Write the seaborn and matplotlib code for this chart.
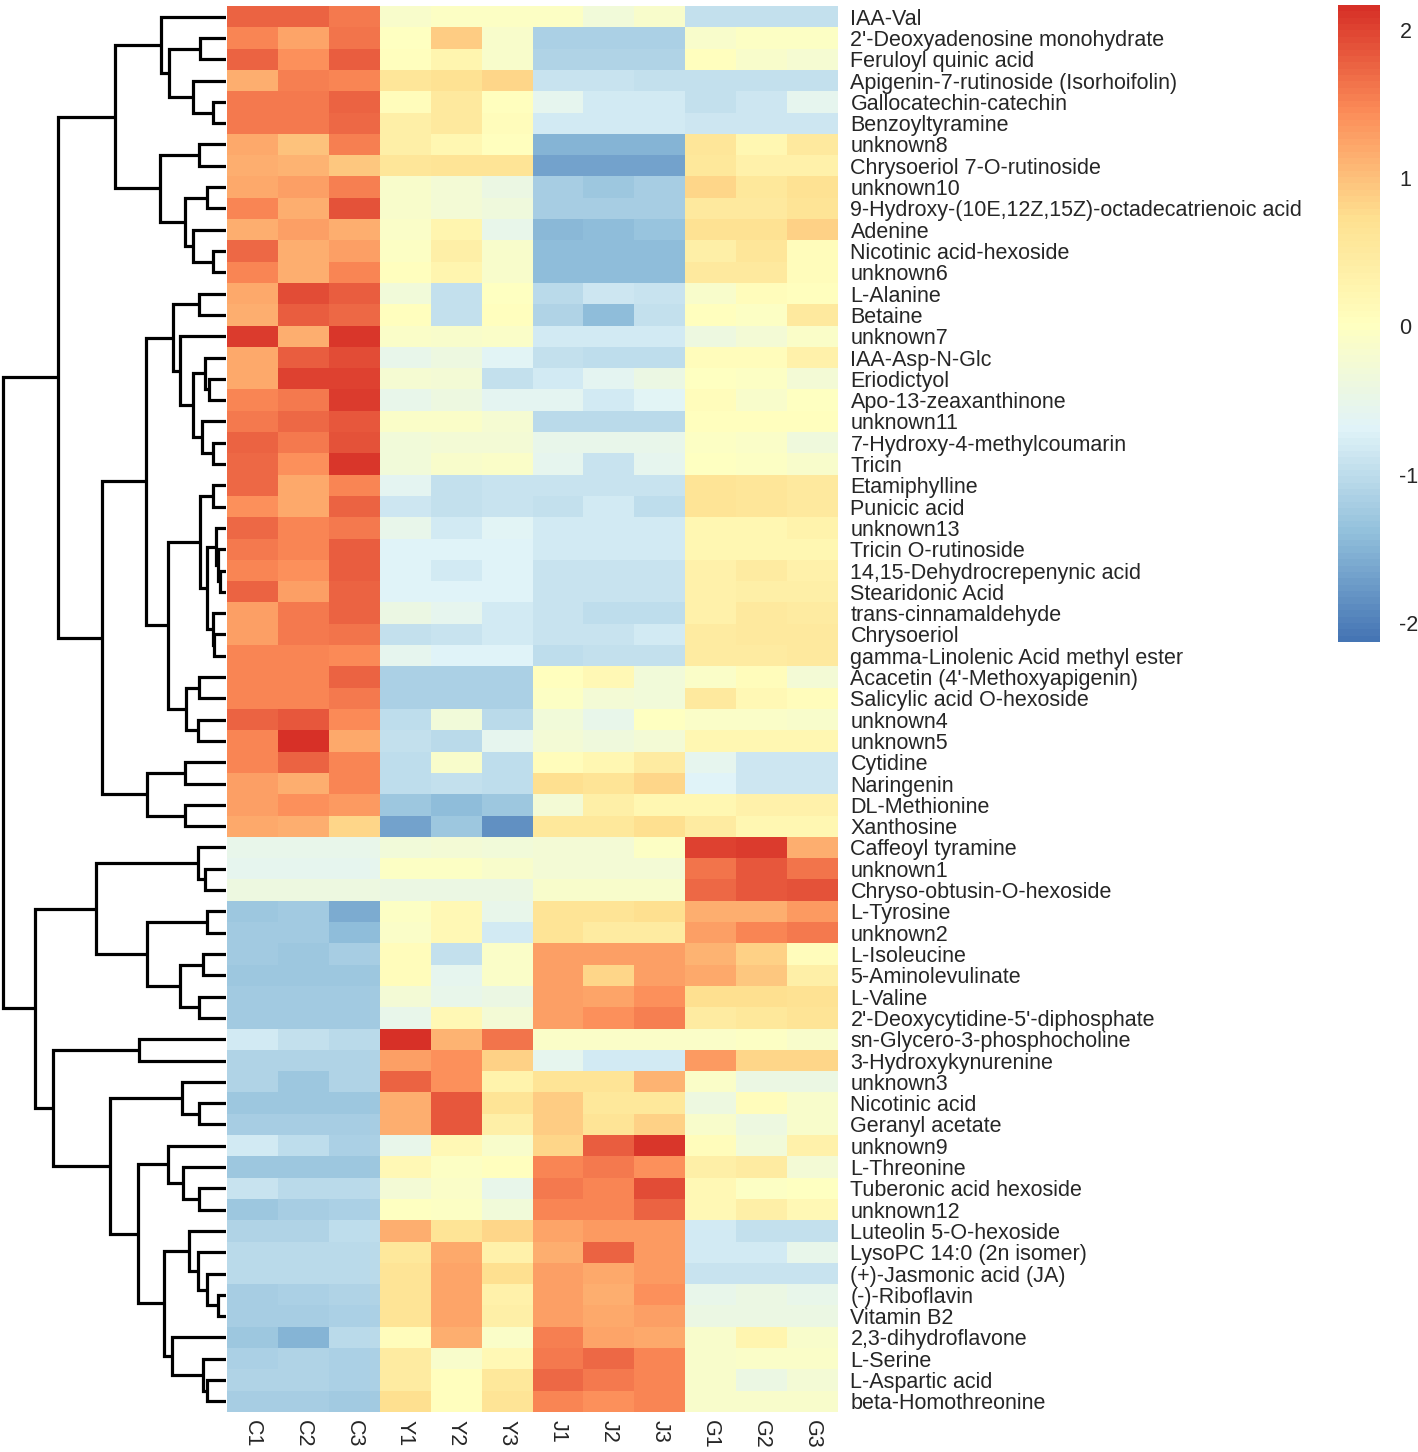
import matplotlib
matplotlib.use("Agg")
import matplotlib.pyplot as plt
from matplotlib.colors import LinearSegmentedColormap
import numpy as np
import pandas as pd
import seaborn as sns

samples = ["C1", "C2", "C3", "Y1", "Y2", "Y3", "J1", "J2", "J3", "G1", "G2", "G3"]

metabolites = [
    "IAA-Val", "2'-Deoxyadenosine monohydrate", "Feruloyl quinic acid",
    "Apigenin-7-rutinoside (Isorhoifolin)", "Gallocatechin-catechin", "Benzoyltyramine",
    "unknown8", "Chrysoeriol 7-O-rutinoside", "unknown10",
    "9-Hydroxy-(10E,12Z,15Z)-octadecatrienoic acid", "Adenine", "Nicotinic acid-hexoside",
    "unknown6", "L-Alanine", "Betaine", "unknown7", "IAA-Asp-N-Glc", "Eriodictyol",
    "Apo-13-zeaxanthinone", "unknown11", "7-Hydroxy-4-methylcoumarin", "Tricin",
    "Etamiphylline", "Punicic acid", "unknown13", "Tricin O-rutinoside",
    "14,15-Dehydrocrepenynic acid", "Stearidonic Acid", "trans-cinnamaldehyde",
    "Chrysoeriol", "gamma-Linolenic Acid methyl ester", "Acacetin (4'-Methoxyapigenin)",
    "Salicylic acid O-hexoside", "unknown4", "unknown5", "Cytidine", "Naringenin",
    "DL-Methionine", "Xanthosine", "Caffeoyl tyramine", "unknown1",
    "Chryso-obtusin-O-hexoside", "L-Tyrosine", "unknown2", "L-Isoleucine",
    "5-Aminolevulinate", "L-Valine", "2'-Deoxycytidine-5'-diphosphate",
    "sn-Glycero-3-phosphocholine", "3-Hydroxykynurenine", "unknown3", "Nicotinic acid",
    "Geranyl acetate", "unknown9", "L-Threonine", "Tuberonic acid hexoside", "unknown12",
    "Luteolin 5-O-hexoside", "LysoPC 14:0 (2n isomer)", "(+)-Jasmonic acid (JA)",
    "(-)-Riboflavin", "Vitamin B2", "2,3-dihydroflavone", "L-Serine", "L-Aspartic acid",
    "beta-Homothreonine",
]

# row z-scores, one triplet per metabolite for each group
c_scores = [
    [1.75, 1.75, 1.6], [1.5, 1.25, 1.65], [1.75, 1.4, 1.8], [1.15, 1.55, 1.5],
    [1.6, 1.6, 1.75], [1.6, 1.6, 1.7], [1.2, 1.0, 1.55], [1.15, 1.1, 0.95],
    [1.2, 1.3, 1.55], [1.5, 1.15, 1.9], [1.15, 1.3, 1.15], [1.7, 1.15, 1.3],
    [1.5, 1.15, 1.5], [1.2, 1.95, 1.8], [1.15, 1.8, 1.7], [2.05, 1.15, 2.1],
    [1.2, 1.8, 1.95], [1.2, 2.0, 2.0], [1.5, 1.6, 2.05], [1.6, 1.7, 1.85],
    [1.75, 1.6, 1.9], [1.7, 1.4, 2.1], [1.7, 1.2, 1.5], [1.4, 1.2, 1.75],
    [1.7, 1.5, 1.6], [1.6, 1.5, 1.8], [1.5, 1.4, 1.8], [1.75, 1.3, 1.75],
    [1.3, 1.6, 1.75], [1.3, 1.6, 1.65], [1.5, 1.5, 1.45], [1.5, 1.5, 1.75],
    [1.5, 1.5, 1.6], [1.75, 1.85, 1.45], [1.5, 2.15, 1.2], [1.5, 1.75, 1.5],
    [1.3, 1.15, 1.5], [1.3, 1.4, 1.35], [1.2, 1.15, 0.8], [-0.5, -0.5, -0.5],
    [-0.55, -0.55, -0.55], [-0.4, -0.4, -0.4], [-1.3, -1.25, -1.6], [-1.25, -1.25, -1.4],
    [-1.25, -1.3, -1.2], [-1.3, -1.3, -1.3], [-1.25, -1.25, -1.25], [-1.25, -1.25, -1.25],
    [-0.8, -0.95, -1.05], [-1.1, -1.1, -1.1], [-1.1, -1.3, -1.1], [-1.3, -1.3, -1.3],
    [-1.2, -1.2, -1.2], [-0.8, -1.0, -1.15], [-1.3, -1.3, -1.3], [-0.9, -1.05, -1.05],
    [-1.3, -1.2, -1.15], [-1.1, -1.1, -1.0], [-1.05, -1.05, -1.05], [-1.05, -1.05, -1.05],
    [-1.2, -1.15, -1.1], [-1.2, -1.2, -1.15], [-1.3, -1.5, -1.05], [-1.15, -1.1, -1.15],
    [-1.1, -1.1, -1.15], [-1.2, -1.2, -1.25],
]
y_scores = [
    [-0.15, -0.05, -0.05], [0.0, 0.9, -0.15], [0.05, 0.25, -0.15], [0.6, 0.7, 0.8],
    [0.1, 0.5, 0.05], [0.4, 0.5, 0.1], [0.4, 0.2, 0.05], [0.6, 0.65, 0.65],
    [-0.15, -0.25, -0.45], [-0.15, -0.25, -0.35], [-0.1, 0.25, -0.5], [-0.05, 0.4, -0.15],
    [0.05, 0.25, -0.15], [-0.3, -0.95, 0.0], [0.05, -0.95, 0.05], [-0.1, -0.15, -0.1],
    [-0.5, -0.4, -0.65], [-0.2, -0.25, -0.95], [-0.5, -0.4, -0.6], [-0.1, -0.1, -0.2],
    [-0.3, -0.25, -0.25], [-0.3, -0.15, -0.1], [-0.6, -0.95, -0.9], [-0.85, -0.95, -0.9],
    [-0.5, -0.8, -0.65], [-0.7, -0.7, -0.7], [-0.7, -0.8, -0.7], [-0.7, -0.7, -0.7],
    [-0.45, -0.55, -0.8], [-0.95, -0.9, -0.8], [-0.55, -0.7, -0.7], [-1.15, -1.15, -1.15],
    [-1.15, -1.15, -1.15], [-1.0, -0.3, -1.05], [-0.95, -1.05, -0.55], [-1.0, -0.15, -1.0],
    [-1.0, -0.95, -1.0], [-1.3, -1.4, -1.3], [-1.7, -1.3, -1.85], [-0.3, -0.25, -0.3],
    [-0.05, -0.05, -0.15], [-0.45, -0.45, -0.45], [-0.05, 0.15, -0.5], [-0.1, 0.15, -0.8],
    [0.1, -0.95, -0.1], [0.1, -0.55, -0.1], [-0.25, -0.5, -0.45], [-0.5, 0.15, -0.25],
    [2.2, 1.1, 1.65], [1.3, 1.4, 0.85], [1.75, 1.4, 0.3], [1.15, 1.85, 0.65],
    [1.15, 1.85, 0.4], [-0.5, 0.15, -0.15], [0.15, -0.05, 0.05], [-0.25, -0.1, -0.5],
    [0.0, -0.05, -0.3], [1.15, 0.65, 0.8], [0.55, 1.2, 0.35], [0.65, 1.25, 0.75],
    [0.65, 1.25, 0.35], [0.65, 1.25, 0.4], [0.1, 1.15, -0.1], [0.45, -0.15, 0.15],
    [0.45, 0.05, 0.55], [0.75, 0.05, 0.65],
]
j_scores = [
    [-0.05, -0.3, -0.15], [-1.15, -1.15, -1.15], [-1.1, -1.1, -1.1], [-0.9, -0.9, -0.95],
    [-0.55, -0.8, -0.8], [-0.8, -0.8, -0.8], [-1.5, -1.5, -1.5], [-1.7, -1.7, -1.7],
    [-1.2, -1.3, -1.2], [-1.2, -1.2, -1.2], [-1.45, -1.4, -1.35], [-1.4, -1.4, -1.4],
    [-1.4, -1.4, -1.4], [-1.05, -0.85, -0.9], [-1.1, -1.4, -0.95], [-0.8, -0.8, -0.8],
    [-0.95, -1.0, -1.0], [-0.8, -0.6, -0.45], [-0.6, -0.8, -0.65], [-1.05, -1.05, -1.05],
    [-0.5, -0.5, -0.5], [-0.55, -0.9, -0.55], [-0.92, -0.92, -0.92], [-0.95, -0.8, -1.0],
    [-0.8, -0.8, -0.8], [-0.8, -0.8, -0.8], [-0.9, -0.9, -0.9], [-0.9, -0.9, -0.9],
    [-0.9, -1.0, -1.0], [-0.9, -0.9, -0.8], [-1.0, -0.95, -0.95], [0.05, 0.15, -0.3],
    [-0.05, -0.25, -0.3], [-0.3, -0.5, 0.0], [-0.25, -0.35, -0.25], [0.1, 0.2, 0.45],
    [0.75, 0.65, 0.8], [-0.25, 0.4, 0.2], [0.55, 0.55, 0.75], [-0.25, -0.25, -0.05],
    [-0.25, -0.25, -0.25], [-0.15, -0.15, -0.15], [0.65, 0.65, 0.75], [0.65, 0.45, 0.45],
    [1.3, 1.3, 1.3], [1.3, 0.8, 1.3], [1.3, 1.25, 1.4], [1.3, 1.4, 1.55],
    [-0.1, -0.1, -0.1], [-0.55, -0.8, -0.8], [0.65, 0.65, 1.1], [0.9, 0.55, 0.55],
    [0.9, 0.65, 0.85], [0.8, 1.8, 2.1], [1.5, 1.6, 1.4], [1.6, 1.5, 1.95],
    [1.5, 1.5, 1.75], [1.25, 1.35, 1.35], [1.15, 1.75, 1.35], [1.3, 1.2, 1.35],
    [1.3, 1.15, 1.4], [1.3, 1.2, 1.3], [1.55, 1.25, 1.2], [1.6, 1.7, 1.5],
    [1.7, 1.6, 1.5], [1.5, 1.4, 1.5],
]
g_scores = [
    [-0.95, -0.95, -0.95], [-0.15, -0.05, -0.05], [0.05, -0.15, -0.2], [-0.95, -0.95, -0.95],
    [-0.95, -0.85, -0.55], [-0.85, -0.85, -0.85], [0.6, 0.2, 0.5], [0.55, 0.35, 0.35],
    [0.8, 0.55, 0.7], [0.5, 0.5, 0.65], [0.7, 0.7, 0.85], [0.4, 0.6, 0.1],
    [0.5, 0.5, 0.1], [-0.15, 0.1, 0.05], [0.05, -0.05, 0.5], [-0.4, -0.25, -0.1],
    [0.1, 0.1, 0.35], [0.0, -0.05, -0.25], [0.1, -0.15, 0.0], [0.05, 0.05, 0.05],
    [-0.05, -0.1, -0.35], [0.0, -0.05, -0.15], [0.65, 0.6, 0.5], [0.65, 0.6, 0.5],
    [0.2, 0.2, 0.3], [0.2, 0.2, 0.2], [0.35, 0.45, 0.35], [0.35, 0.4, 0.4],
    [0.35, 0.5, 0.45], [0.45, 0.5, 0.5], [0.45, 0.45, 0.5], [-0.1, 0.1, -0.25],
    [0.5, 0.15, 0.1], [-0.1, -0.1, -0.15], [0.2, 0.2, 0.2], [-0.55, -0.85, -0.85],
    [-0.7, -0.85, -0.85], [0.2, 0.35, 0.35], [0.45, 0.2, 0.2], [2.0, 2.05, 1.15],
    [1.65, 1.85, 1.65], [1.7, 1.85, 1.9], [1.15, 1.15, 1.35], [1.3, 1.5, 1.6],
    [1.1, 0.85, 0.1], [1.2, 0.95, 0.4], [0.75, 0.75, 0.7], [0.45, 0.55, 0.65],
    [-0.1, -0.05, -0.15], [1.35, 0.8, 0.8], [-0.1, -0.45, -0.45], [-0.4, 0.1, -0.15],
    [-0.15, -0.4, -0.15], [0.1, -0.3, 0.35], [0.4, 0.45, -0.25], [0.15, -0.05, 0.0],
    [0.15, 0.4, 0.15], [-0.8, -0.95, -0.95], [-0.8, -0.8, -0.5], [-0.9, -0.9, -0.9],
    [-0.5, -0.45, -0.5], [-0.45, -0.45, -0.45], [-0.15, 0.25, -0.15], [-0.15, -0.1, -0.1],
    [-0.15, -0.45, -0.25], [-0.15, -0.15, -0.15],
]

# row tree: (child a, child b, height); leaves are 0..65, merge k gets id 66 + k
merges = [
    (1, 2, 26), (4, 5, 13), (3, 67, 33), (66, 68, 57), (0, 69, 65),
    (6, 7, 27), (8, 9, 19), (11, 12, 13), (10, 73, 33), (72, 74, 41),
    (71, 75, 66), (70, 76, 111), (13, 14, 27), (17, 18, 17), (16, 79, 21),
    (20, 21, 13), (19, 81, 24), (80, 82, 33), (15, 83, 46), (78, 84, 53),
    (22, 23, 13), (26, 27, 6), (25, 87, 8), (24, 88, 10), (29, 30, 12),
    (28, 90, 13.5), (89, 91, 19), (86, 92, 26), (31, 32, 27), (33, 34, 28),
    (94, 95, 40), (93, 96, 58), (85, 97, 80), (35, 36, 41), (37, 38, 41),
    (99, 100, 79), (98, 101, 124), (77, 102, 168), (40, 41, 21), (39, 104, 28),
    (42, 43, 19), (44, 45, 23), (46, 47, 27), (107, 108, 46), (106, 109, 79),
    (105, 110, 130), (48, 49, 87), (51, 52, 27), (50, 113, 44), (55, 56, 27),
    (54, 115, 43), (53, 116, 58), (60, 61, 8), (59, 118, 19), (58, 119, 28),
    (57, 120, 37), (64, 65, 19), (63, 122, 23), (62, 123, 54), (121, 124, 62),
    (117, 125, 88), (114, 126, 116), (112, 127, 173), (111, 128, 191), (103, 129, 223),
]

values = np.hstack([np.array(c_scores), np.array(y_scores),
                    np.array(j_scores), np.array(g_scores)])
df = pd.DataFrame(values, index=metabolites, columns=samples)

sns.set_style("white")
plt.rcParams["font.family"] = ["Liberation Sans", "DejaVu Sans"]

cmap = LinearSegmentedColormap.from_list(
    "rdylbu_r",
    ["#4575B4", "#91BFDB", "#E0F3F8", "#FFFFBF", "#FEE090", "#FC8D59", "#D73027"],
    N=100,
)

W, H = 1418, 1452
fig = plt.figure(figsize=(W / 100, H / 100), dpi=100)
top, bottom = 6, 1412
ax_d = fig.add_axes([0 / W, 1 - bottom / H, 226 / W, (bottom - top) / H])
ax_h = fig.add_axes([227 / W, 1 - bottom / H, 611 / W, (bottom - top) / H])
ax_c = fig.add_axes([1338 / W, 1 - 642 / H, 42 / W, 637 / H])

sns.heatmap(df, ax=ax_h, cmap=cmap, vmin=-2.13, vmax=2.17, cbar_ax=ax_c,
            xticklabels=samples, yticklabels=metabolites, linewidths=0)
ax_h.set_xlabel("")
ax_h.set_ylabel("")
ax_h.yaxis.tick_right()
ax_h.tick_params(axis="y", length=0, pad=9, labelsize=15.5, labelrotation=0)
ax_h.tick_params(axis="x", length=0, pad=6, labelsize=15.5, labelrotation=270)
for lab in ax_h.get_yticklabels():
    lab.set_horizontalalignment("left")

# dendrogram
n = len(metabolites)
pos = {i: i + 0.5 for i in range(n)}
hgt = {i: 0.0 for i in range(n)}
for k, (a, b, h) in enumerate(merges):
    ya, yb = pos[a], pos[b]
    ax_d.plot([hgt[a], h, h, hgt[b]], [ya, ya, yb, yb], color="black",
              lw=2.3, solid_capstyle="butt", solid_joinstyle="miter")
    pos[n + k] = (ya + yb) / 2
    hgt[n + k] = h
ax_d.set_ylim(n, 0)
ax_d.set_xlim(226, 0)
ax_d.axis("off")

cbar = ax_h.collections[0].colorbar
cbar.outline.set_visible(False)
cbar.set_ticks([-2, -1, 0, 1, 2])
cbar.set_ticklabels(["-2", "-1", "0", "1", "2"])
ax_c.tick_params(length=0, pad=14, labelsize=15.5)

fig.savefig("out.png", dpi=100)
